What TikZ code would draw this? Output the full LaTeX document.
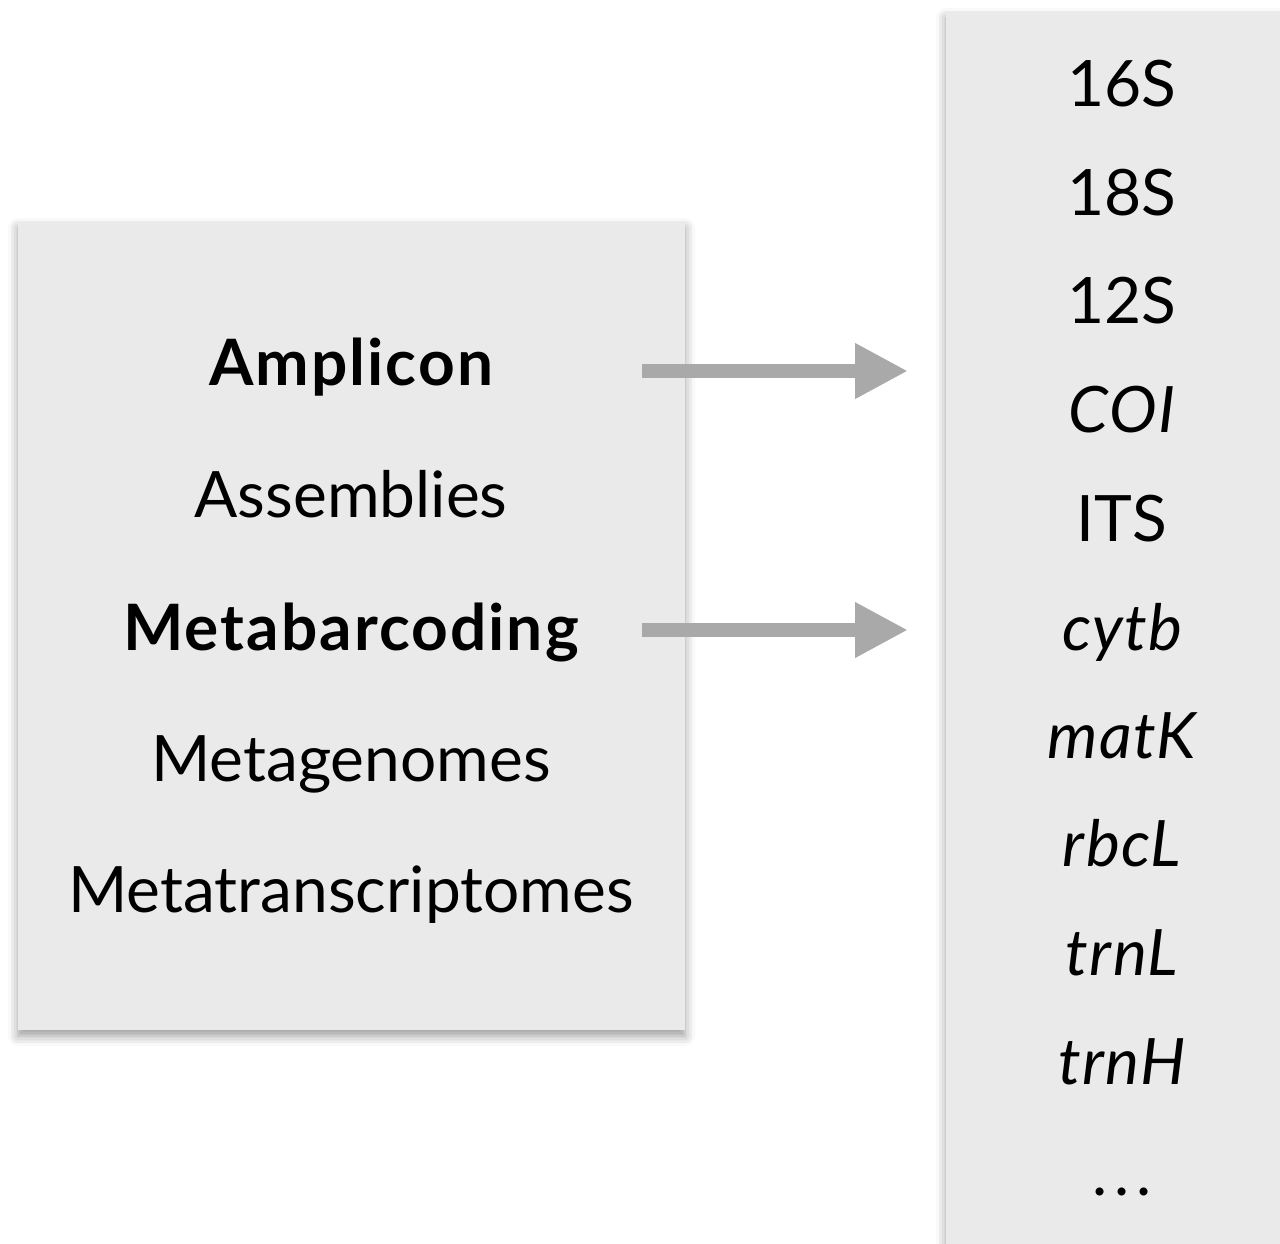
\documentclass[tikz,border=0pt]{standalone}
\usepackage{fontspec}
\setmainfont{Lato}
\usetikzlibrary{arrows.meta,shadows.blur}
\definecolor{panelgray}{HTML}{EAEAEA}
\definecolor{arrowgray}{HTML}{A9A9A9}
\newcommand{\approachbold}[1]{{\bfseries\addfontfeatures{LetterSpace=3.2}#1}}
\newcommand{\genename}[1]{{\itshape\addfontfeatures{LetterSpace=2}#1}}
\tikzset{
  panel/.style={fill=panelgray, draw=none,
    blur shadow={shadow xshift=0pt, shadow yshift=-6pt, shadow blur radius=10pt, shadow opacity=40}},
  lefttext/.style={anchor=base, inner sep=0pt, font=\fontsize{64}{70}\selectfont},
  righttext/.style={anchor=base, inner sep=0pt, font=\fontsize{64}{70}\selectfont},
  bigarrow/.style={draw=arrowgray, line width=14pt, -{Triangle[length=53pt,width=52pt]}, fill=arrowgray}
}
\begin{document}
\begin{tikzpicture}[x=1pt,y=-1pt]
\useasboundingbox (0,0) rectangle (1280,1244);
% panels
\path[panel] (18,222) rectangle (685,1030);
\path[panel] (946,12) rectangle (1300,1270);
% sequencing approaches
\node[lefttext] (amp)  at (351,385) {\approachbold{Amplicon}};
\node[lefttext] (asm)  at (351,517) {Assemblies};
\node[lefttext] (meta) at (351,650) {\approachbold{Metabarcoding}};
\node[lefttext] (mg)   at (351,781) {Metagenomes};
\node[lefttext] (mt)   at (351,912) {Metatranscriptomes};
% marker genes
\node[righttext] (m16) at (1122,107)  {16S};
\node[righttext] (m18) at (1122,215)  {18S};
\node[righttext] (m12) at (1122,323)  {12S};
\node[righttext] (coi) at (1122,432)  {\genename{COI}};
\node[righttext] (its) at (1122,541)  {ITS};
\node[righttext] (cyt) at (1122,650)  {\genename{cytb}};
\node[righttext] (mat) at (1122,758)  {\genename{matK}};
\node[righttext] (rbc) at (1122,866)  {\genename{rbcL}};
\node[righttext] (trl) at (1122,975)  {\genename{trnL}};
\node[righttext] (trh) at (1122,1084) {\genename{trnH}};
\node[righttext] (dots) at (1122,1195) {.\kern7pt.\kern7pt.};
% arrows
\coordinate (a1s) at (642,371);
\coordinate (a1e) at (908,371);
\coordinate (a2s) at (642,630);
\coordinate (a2e) at (908,630);
\draw[bigarrow] (a1s) -- (a1e);
\draw[bigarrow] (a2s) -- (a2e);
\end{tikzpicture}
\end{document}
